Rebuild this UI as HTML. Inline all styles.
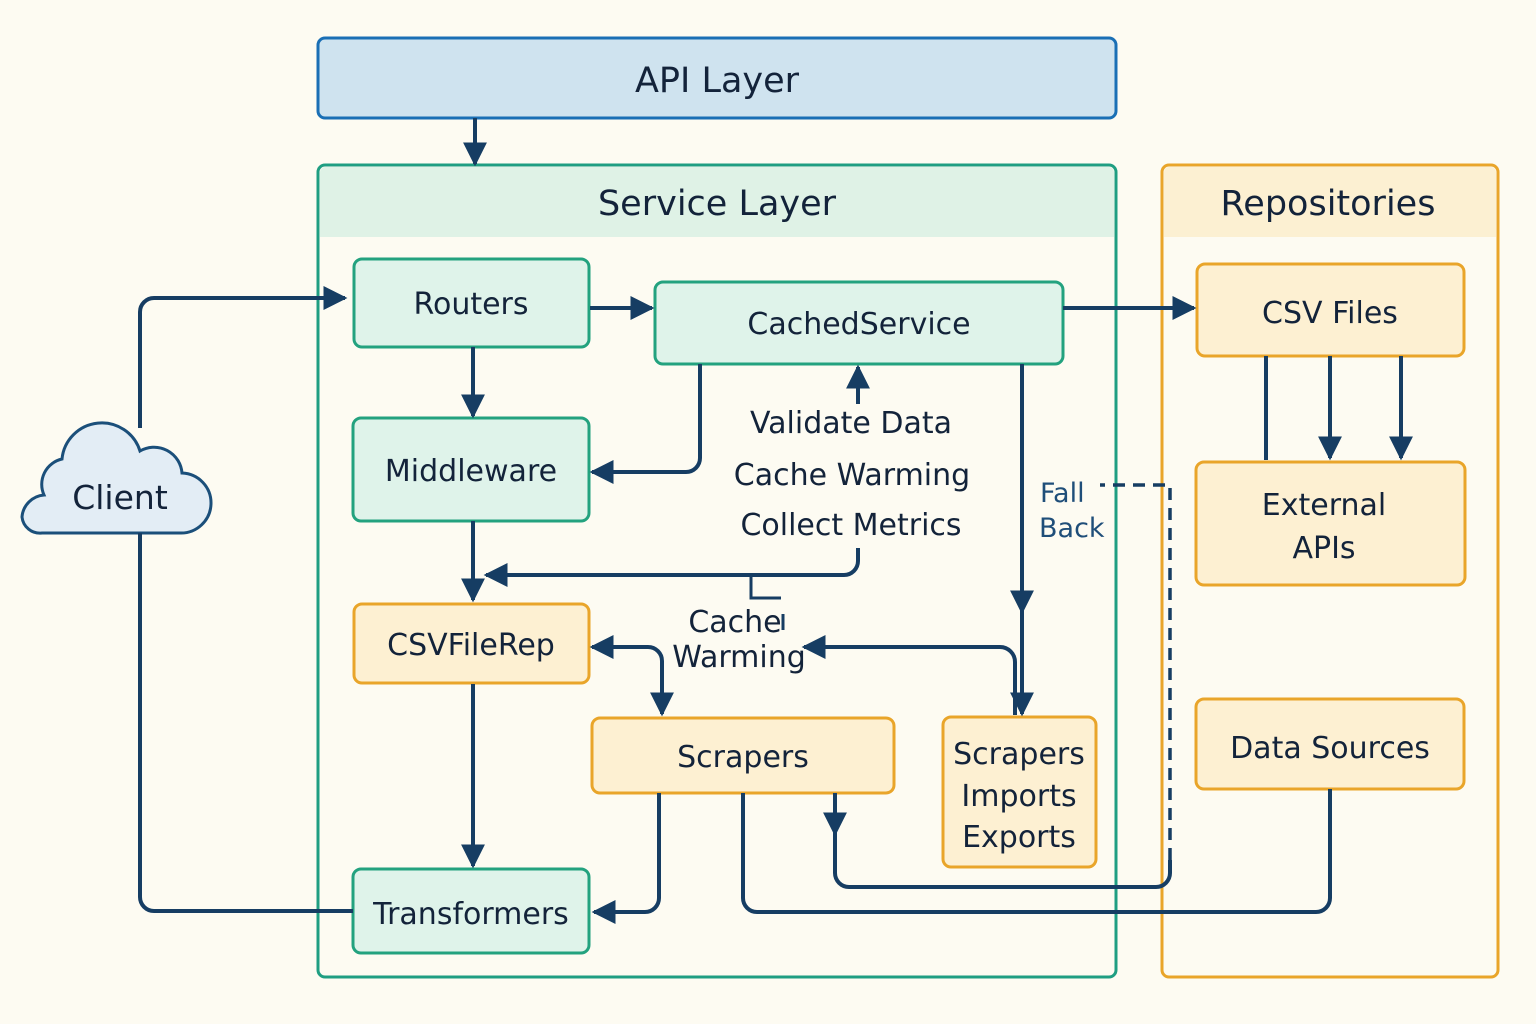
<!DOCTYPE html>
<html><head><meta charset="utf-8"><style>
html,body{margin:0;padding:0;background:#fdfbf2;}
svg{display:block;}
text{font-family:"DejaVu Sans","Liberation Sans",sans-serif;fill:#13233a;}
</style></head><body>
<svg width="1536" height="1024" viewBox="0 0 1536 1024" xmlns="http://www.w3.org/2000/svg">
<defs>
<marker id="a" viewBox="0 0 10 10" refX="9" refY="5" markerWidth="6" markerHeight="6" orient="auto-start-reverse" markerUnits="strokeWidth"><path d="M0,0 L10,5 L0,10 z" fill="#163d63"/></marker>
</defs>
<rect width="1536" height="1024" fill="#fdfbf2"/>
<rect x="318" y="38" width="798" height="80" rx="7" fill="#cfe3ef" stroke="#1a6fb5" stroke-width="3"/>
<text x="717" y="92" font-size="35" text-anchor="middle">API Layer</text>
<rect x="318" y="165" width="798" height="812" rx="7" fill="#fdfbf2" stroke="#1f9e82" stroke-width="3"/>
<path d="M320,237 V172 a5,5 0 0 1 5,-5 H1109 a5,5 0 0 1 5,5 V237 z" fill="#dff2e6"/>
<text x="717" y="215" font-size="35" text-anchor="middle">Service Layer</text>
<rect x="1162" y="165" width="336" height="812" rx="7" fill="#fdfbf2" stroke="#e9a52a" stroke-width="3"/>
<path d="M1164,237 V172 a5,5 0 0 1 5,-5 H1491 a5,5 0 0 1 5,5 V237 z" fill="#fcf0d2"/>
<text x="1328" y="215" font-size="35" text-anchor="middle">Repositories</text>

<g stroke-width="3">
<rect x="354" y="259" width="235" height="88" rx="8" fill="#dff3ea" stroke="#23a27f"/>
<rect x="655" y="282" width="408" height="82" rx="8" fill="#dff3ea" stroke="#23a27f"/>
<rect x="353" y="418" width="236" height="103" rx="8" fill="#dff3ea" stroke="#23a27f"/>
<rect x="354" y="604" width="235" height="79" rx="8" fill="#fdf0d2" stroke="#e9a52a"/>
<rect x="592" y="718" width="302" height="75" rx="8" fill="#fdf0d2" stroke="#e9a52a"/>
<rect x="943" y="717" width="153" height="150" rx="8" fill="#fdf0d2" stroke="#e9a52a"/>
<rect x="353" y="869" width="236" height="84" rx="8" fill="#dff3ea" stroke="#23a27f"/>
<rect x="1197" y="264" width="267" height="92" rx="8" fill="#fdf0d2" stroke="#e9a52a"/>
<rect x="1196" y="462" width="269" height="123" rx="8" fill="#fdf0d2" stroke="#e9a52a"/>
<rect x="1196" y="699" width="268" height="90" rx="8" fill="#fdf0d2" stroke="#e9a52a"/>
</g>
<path d="M48,533 H180 a30,30 0 0 0 2,-60 a28,28 0 0 0 -42,-22 a40,40 0 0 0 -78,8 a26,26 0 0 0 -18,36 a24,24 0 0 0 -22,22 a18,18 0 0 0 20,16 z" fill="#e3edf5" stroke="#1b4f7a" stroke-width="3"/>

<g font-size="30" text-anchor="middle">
<text x="471" y="314">Routers</text>
<text x="859" y="334">CachedService</text>
<text x="471" y="481">Middleware</text>
<text x="471" y="655">CSVFileRep</text>
<text x="743" y="767">Scrapers</text>
<text x="1019" y="764">Scrapers</text>
<text x="1019" y="806">Imports</text>
<text x="1019" y="847">Exports</text>
<text x="471" y="924">Transformers</text>
<text x="1330" y="323">CSV Files</text>
<text x="1324" y="515">External</text>
<text x="1324" y="558">APIs</text>
<text x="1330" y="758">Data Sources</text>
<text x="120" y="509" font-size="33">Client</text>
<text x="851" y="433">Validate Data</text>
<text x="852" y="485">Cache Warming</text>
<text x="851" y="535">Collect Metrics</text>
<text x="735" y="632">Cache</text>
<text x="739" y="667">Warming</text>
</g>
<g font-size="27"><text x="1040" y="502" style="fill:#1f4e79">Fall</text><text x="1039" y="537" style="fill:#1f4e79">Back</text></g>

<g fill="none" stroke="#163d63" stroke-width="4">
<path d="M475,118 V164" marker-end="url(#a)"/>
<path d="M140,428 V312 a14,14 0 0 1 14,-14 H345" marker-end="url(#a)"/>
<path d="M140,533 V897 a14,14 0 0 0 14,14 H353"/>
<path d="M590,308 H652" marker-end="url(#a)"/>
<path d="M473,347 V416" marker-end="url(#a)"/>
<path d="M700,364 V458 a14,14 0 0 1 -14,14 H592" marker-end="url(#a)"/>
<path d="M858,404 V367" marker-end="url(#a)"/>
<path d="M1063,308 H1194" marker-end="url(#a)"/>
<path d="M473,521 V600" marker-end="url(#a)"/>
<path d="M858,548 V561 a14,14 0 0 1 -14,14 H486" marker-end="url(#a)"/>
<path d="M751,575 V598 H781" stroke-width="3"/>
<path d="M783,614 V630" stroke-width="3"/>
<path d="M1022,364 V612" marker-end="url(#a)"/>
<path d="M1022,612 V714" marker-end="url(#a)"/>
<path d="M1015,715 V662 a15,15 0 0 0 -15,-15 H804" marker-end="url(#a)"/>
<path d="M592,647 H648 a14,14 0 0 1 14,14 V714" marker-start="url(#a)" marker-end="url(#a)"/>
<path d="M473,684 V866" marker-end="url(#a)"/>
<path d="M659,793 V898 a14,14 0 0 1 -14,14 H594" marker-end="url(#a)"/>
<path d="M743,793 V898 a14,14 0 0 0 14,14 H1316 a14,14 0 0 0 14,-14 V789"/>
<path d="M835,793 V834" marker-end="url(#a)"/>
<path d="M835,834 V873 a14,14 0 0 0 14,14 H1156 a14,14 0 0 0 14,-14 V860"/>
<path d="M1170,860 V485 H1100" stroke-dasharray="12,8" stroke-width="3.5"/>
<path d="M1266,356 V460"/>
<path d="M1330,356 V458" marker-end="url(#a)"/>
<path d="M1401,356 V458" marker-end="url(#a)"/>
</g>
</svg>
</body></html>
